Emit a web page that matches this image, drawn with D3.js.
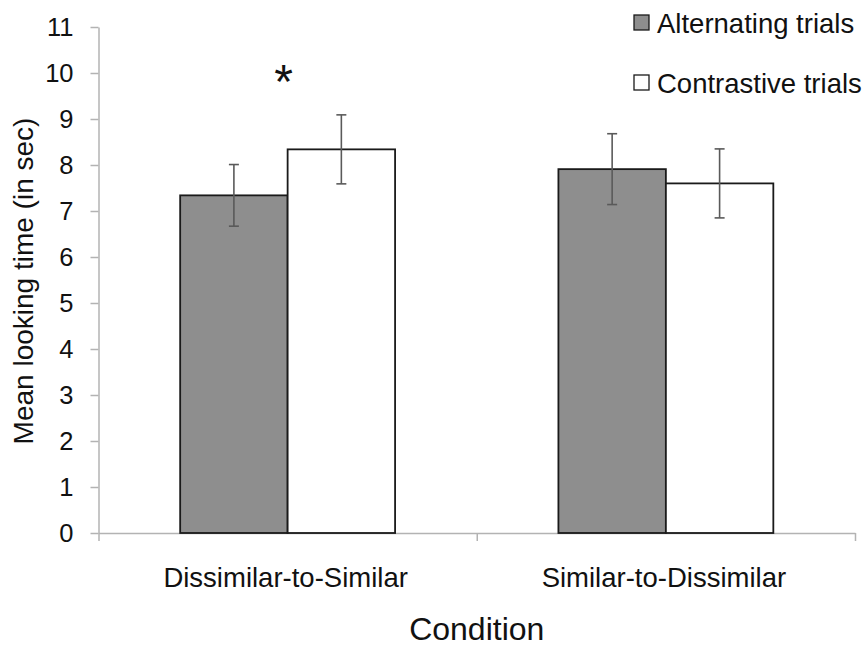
<!DOCTYPE html>
<html>
<head>
<meta charset="utf-8">
<script src="https://cdn.jsdelivr.net/npm/d3@7"></script>
<style>
  body { margin: 0; background: #fff; }
  svg text { font-family: "Liberation Sans", Arial, sans-serif; fill: #111; }
</style>
</head>
<body>
<div id="chart"></div>
<script>
const categories = ["Dissimilar-to-Similar", "Similar-to-Dissimilar"];
const seriesNames = ["Alternating trials", "Contrastive trials"];
const alternating = [7.34, 7.91];
const contrastive = [8.34, 7.60];
const alternatingErr = [0.67, 0.77];
const contrastiveErr = [0.75, 0.75];
const yTicks = [0, 1, 2, 3, 4, 5, 6, 7, 8, 9, 10, 11];
const marks = ["*", ""];

const width = 865, height = 646;
const margin = { top: 27, right: 10, bottom: 113, left: 98.5 };
const axisColor = "#b3b3b3";
const fills = ["#8e8e8e", "#ffffff"];

const svg = d3.select("#chart").append("svg")
    .attr("width", width)
    .attr("height", height);

const y = d3.scaleLinear()
    .domain([0, 11])
    .range([height - margin.bottom, margin.top]);

const x0 = d3.scaleBand()
    .domain(categories)
    .range([margin.left, 855])
    .paddingInner(0)
    .paddingOuter(0);

const x1 = d3.scaleBand()
    .domain(seriesNames)
    .range([0, x0.bandwidth()])
    .paddingInner(0)
    .paddingOuter(0.76);

const xEdge = d3.scaleLinear()
    .domain([0, categories.length])
    .range(x0.range());

// y axis
const yAxis = svg.append("g")
    .attr("transform", `translate(${margin.left},0)`)
    .call(d3.axisLeft(y).tickValues(yTicks).tickSize(8).tickSizeOuter(0).tickPadding(17));
yAxis.select(".domain").attr("stroke", axisColor).attr("stroke-width", 1.5);
yAxis.selectAll(".tick line").attr("stroke", axisColor).attr("stroke-width", 1.5);
yAxis.selectAll(".tick text")
    .attr("font-size", "25.5px")
    .attr("fill", "#111")
    .style("font-family", "'Liberation Sans', Arial, sans-serif");

// x axis
const xAxis = svg.append("g")
    .attr("transform", `translate(0,${y(0)})`)
    .call(d3.axisBottom(xEdge).tickValues(d3.range(categories.length + 1)).tickFormat("").tickSize(8).tickSizeOuter(0));
xAxis.select(".domain").attr("stroke", axisColor).attr("stroke-width", 1.5);
xAxis.selectAll(".tick line").attr("stroke", axisColor).attr("stroke-width", 1.5);

svg.append("g").selectAll("text")
    .data(categories)
    .join("text")
    .attr("x", d => x0(d) + x0.bandwidth() / 2 - 2)
    .attr("y", 587)
    .attr("text-anchor", "middle")
    .attr("font-size", "27.5px")
    .text(d => d);

// bars
const rows = categories.map((c, i) => [
    { cat: c, s: seriesNames[0], v: alternating[i], e: alternatingErr[i], k: 0 },
    { cat: c, s: seriesNames[1], v: contrastive[i], e: contrastiveErr[i], k: 1 }
]).flat();

svg.append("g").selectAll("rect")
    .data(rows)
    .join("rect")
    .attr("x", d => x0(d.cat) + x1(d.s))
    .attr("y", d => y(d.v))
    .attr("width", x1.bandwidth())
    .attr("height", d => y(0) - y(d.v))
    .attr("fill", d => fills[d.k])
    .attr("stroke", "#1a1a1a")
    .attr("stroke-width", 1.8);

// error bars
const err = svg.append("g")
    .attr("stroke", "#5a5a5a")
    .attr("stroke-width", 1.6);
rows.forEach(d => {
    const cx = x0(d.cat) + x1(d.s) + x1.bandwidth() / 2;
    err.append("line").attr("x1", cx).attr("x2", cx).attr("y1", y(d.v + d.e)).attr("y2", y(d.v - d.e));
    err.append("line").attr("x1", cx - 5).attr("x2", cx + 5).attr("y1", y(d.v + d.e)).attr("y2", y(d.v + d.e));
    err.append("line").attr("x1", cx - 5).attr("x2", cx + 5).attr("y1", y(d.v - d.e)).attr("y2", y(d.v - d.e));
});

// significance mark
svg.append("g").selectAll("text")
    .data(categories)
    .join("text")
    .attr("x", d => x0(d) + x0.bandwidth() / 2 - 4)
    .attr("y", 98)
    .attr("text-anchor", "middle")
    .attr("font-size", "48px")
    .text((d, i) => marks[i]);

// axis titles
svg.append("text")
    .attr("transform", `translate(33,${(y(0) + y(11)) / 2 + 1}) rotate(-90)`)
    .attr("text-anchor", "middle")
    .attr("font-size", "28px")
    .text("Mean looking time (in sec)");

svg.append("text")
    .attr("x", xEdge(1))
    .attr("y", 640)
    .attr("text-anchor", "middle")
    .attr("font-size", "32px")
    .text("Condition");

// legend
const legend = svg.append("g");
seriesNames.forEach((s, i) => {
    const ly = 15 + i * 60;
    legend.append("rect")
        .attr("x", 634).attr("y", ly)
        .attr("width", 15).attr("height", 15)
        .attr("fill", fills[i])
        .attr("stroke", "#1a1a1a")
        .attr("stroke-width", 1.3);
    legend.append("text")
        .attr("x", 657).attr("y", ly + 18)
        .attr("font-size", "27.5px")
        .text(s);
});
</script>
</body>
</html>
